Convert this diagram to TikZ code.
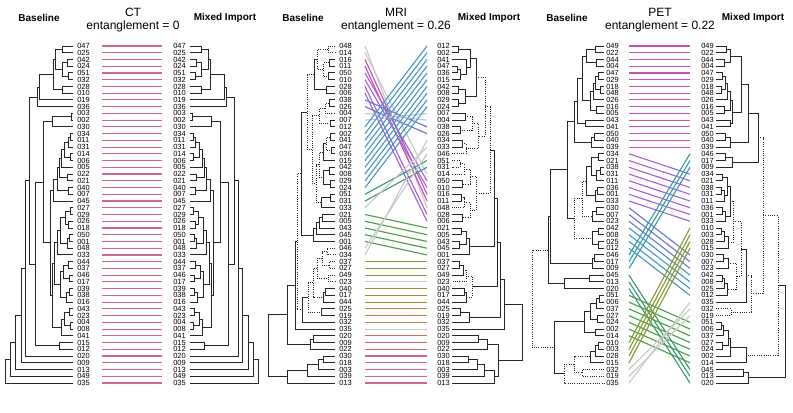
\documentclass[tikz,border=0pt]{standalone}
\usepackage{fontspec}
\setmainfont{Liberation Sans}
\usetikzlibrary{calc}

\definecolor{ctpink}{HTML}{D0668A}
\definecolor{lgray}{HTML}{C8C8C8}
\definecolor{magen}{HTML}{C650B4}
\definecolor{purp}{HTML}{A662D8}
\definecolor{indig}{HTML}{6A76D8}
\definecolor{sky}{HTML}{4A98C8}
\definecolor{teal}{HTML}{3C9CA4}
\definecolor{tgreen}{HTML}{3A9A78}
\definecolor{green}{HTML}{4AA044}
\definecolor{olive}{HTML}{8A9A34}
\definecolor{ochre}{HTML}{A08A3C}
\definecolor{brown}{HTML}{B8844A}
\definecolor{salmon}{HTML}{D06A60}

\tikzset{
  lab/.style={font=\fontsize{5.6}{6}\selectfont, inner sep=0pt, anchor=west},
  hdr/.style={font=\fontsize{7.5}{9}\selectfont\bfseries, inner sep=0pt},
  ttl/.style={font=\fontsize{9}{10}\selectfont, inner sep=0pt},
  branch/.style={draw=black!85, line width=0.7pt},
  tline/.style={line width=0.85pt},
  ss/.style={},
  dd/.style={densely dotted}
}

% #1 name, #2 x of the leaves, #3 side (-1 left, 1 right), #4 merges
\newcommand\dendro[4]{%
  \foreach \k in {1,...,51}
    \coordinate (#1\k) at (#2,{46+(\k-1)*6.74});
  \edef\mlist{#4}%
  \foreach \nm/\ca/\cb/\hh/\st in \mlist{
    \pgfmathsetmacro\hx{#2+#3*\hh}
    \draw[branch,\st] (#1\ca) -- (\hx,0 |- #1\ca) -- (\hx,0 |- #1\cb) -- (#1\cb);
    \coordinate (#1\nm) at ($(\hx,0 |- #1\ca)!.5!(\hx,0 |- #1\cb)$);
  }
}

% #1 name, #2 x of the text, #3 x of the line end, #4 labels
\newcommand\labcol[4]{%
  \foreach \t [count=\i] in {#4}{
    \node[lab] (#1t\i) at (#2,{46+(\i-1)*6.74}) {\t};
    \coordinate (#1e\i) at (#3,{46+(\i-1)*6.74});
  }
}

\def\cttree{a1/1/2/11/ss, a2/3/4/6/ss, a3/5/6/5/ss, a4/a2/a3/11/ss, a5/a1/a4/18/ss,
  a6/7/8/11/ss, a7/a5/a6/20/ss, a8/a7/9/34/ss, a9/a8/10/36/ss,
  b1/11/12/2/ss, b2/b1/13/21/ss,
  c1/14/15/3/ss, c2/c1/16/5/ss, c3/17/18/3/ss, c4/c2/c3/9/ss, c5/c4/19/12/ss,
  c6/20/21/6/ss, c7/c5/c6/14/ss, c8/22/23/5/ss, c9/c7/c8/16/ss, c10/c9/24/20/ss,
  d1/25/26/3/ss, d2/27/28/5/ss, d3/d1/d2/8/ss, d4/29/30/4/ss, d5/d4/31/6/ss,
  d6/d3/d5/13/ss, d7/d6/32/16/ss,
  e1/33/34/5/ss, e2/35/36/4/ss, e3/e1/e2/10/ss, e4/37/38/4/ss, e5/e4/39/7/ss, e6/e3/e5/13/ss,
  f1/40/41/4/ss, f2/42/43/3/ss, f3/f1/f2/9/ss, f4/f3/44/12/ss,
  g1/d7/e6/19/ss, g2/g1/f4/21/ss, c11/c10/g2/23/ss, h1/45/46/14/ss,
  k1/b2/c11/30/ss, k2/k1/h1/38/ss, k3/a9/k2/44/ss, k4/k3/47/48/ss,
  k5/k4/48/52/ss, k6/k5/49/58/ss, k7/k6/50/63/ss, k8/k7/51/68/ss}

\begin{document}
\begin{tikzpicture}[x=0.75pt, y=-0.75pt]
\useasboundingbox (0,0) rectangle (793,413);

% CT
\node[ttl] (ctT) at (133,12) {CT};
\node[ttl] (ctE) at (133,26.5) {entanglement = 0};
\node[hdr] (ctHL) at (39,17.5) {Baseline};
\node[hdr] (ctHR) at (225,17.5) {Mixed Import};
\dendro{ctL}{73}{-1}{\cttree}
\dendro{ctR}{190}{1}{\cttree}
\labcol{ctL}{77}{102}{047,025,042,024,051,032,028,010,019,036,003,002,030,034,011,031,014,006,005,022,021,040,007,045,027,029,026,018,050,001,048,033,044,037,046,017,039,038,016,043,023,004,008,041,015,012,020,009,013,049,035}
\labcol{ctR}{173}{162}{047,025,042,024,051,032,028,010,019,036,003,002,030,034,011,031,014,006,005,022,021,040,007,045,027,029,026,018,050,001,048,033,044,037,046,017,039,038,016,043,023,004,008,041,015,012,020,009,013,049,035}
\foreach \i in {1,...,51}
  \draw[tline,ctpink] (ctLe\i) -- (ctRe\i);

% MRI
\node[ttl] (mrT) at (396,12) {MRI};
\node[ttl] (mrE) at (396,26.5) {entanglement = 0.26};
\node[hdr] (mrHL) at (303,17.5) {Baseline};
\node[hdr] (mrHR) at (489,17.5) {Mixed Import};
\dendro{mrL}{335}{-1}{m1/1/2/7/dd, m2/3/4/6/ss, m3/5/6/7/ss, m4/m2/m3/12/dd, m5/m1/m4/18/dd,
  m6/7/8/9/ss, m7/m5/m6/21/ss, m8/9/10/6/ss, m9/m8/11/10/dd, m10/12/13/5/ss, m11/m9/m10/16/dd,
  m12/14/15/5/ss, m13/16/17/4/ss, m14/m12/m13/9/dd, m15/m14/18/12/ss,
  m16/19/20/6/ss, m17/21/22/5/ss, m18/m16/m17/12/ss, m19/m15/m18/16/dd,
  m20/23/24/5/ss, m21/m20/25/14/ss, m22/m19/m21/19/dd, m23/m11/m22/23/dd, m24/m7/m23/28/dd,
  m25/26/27/13/ss, m26/m25/28/16/ss, m27/m26/29/19/ss, m28/m27/30/22/ss, m29/m24/m28/34/ss,
  m30/31/32/8/dd, m31/33/34/6/dd, m32/m30/m31/13/dd, m33/35/36/7/dd, m34/m32/m33/18/dd,
  m35/37/38/10/ss, m36/m35/39/12/ss, m37/m34/m36/22/dd, m38/40/41/14/ss, m39/m37/m38/27/dd,
  m40/m39/42/33/ss, m41/m29/m40/38/dd, m42/m41/43/40/ss, m43/44/45/22/ss, m44/m43/46/25/ss,
  m45/m42/m44/48/ss, m46/47/48/12/ss, m47/m46/49/17/ss, m48/m47/50/28/ss, m49/m48/51/48/ss,
  m50/m45/m49/67/ss}
\dendro{mrR}{452}{1}{r1/1/2/6/ss, r2/4/5/5/ss, r3/r2/6/8/ss, r4/3/r3/14/ss, r5/r1/r4/18/ss,
  r6/7/8/6/ss, r7/9/10/6/ss, r8/r6/r7/13/ss, r9/r5/r8/24/ss,
  r10/11/12/13/ss, r11/13/14/8/ss, r12/r10/r11/20/dd, r13/15/16/10/ss, r14/r13/17/14/dd,
  r15/r12/r14/26/dd, r16/r9/r15/33/dd,
  r17/18/19/8/dd, r18/r17/20/12/dd, r19/21/22/10/ss, r20/r18/r19/18/dd, r21/23/24/9/ss,
  r22/r21/25/12/dd, r23/26/27/10/ss, r24/r22/r23/18/dd, r25/r20/r24/24/dd, r26/r16/r25/38/dd,
  r27/28/29/9/ss, r28/30/31/7/ss, r29/r27/r28/14/ss, r30/r29/32/17/ss, r31/r26/r30/42/ss,
  r32/33/34/7/ss, r33/r32/35/11/ss, r34/r33/36/14/dd, r35/37/38/12/ss, r36/r35/39/14/ss,
  r37/r34/r36/20/dd, r38/r31/r37/45/ss, r39/40/41/8/ss, r40/r39/42/17/ss, r41/r38/r40/48/ss,
  r42/r41/43/52/ss, r43/44/45/26/ss, r44/r43/46/35/ss, r45/47/48/16/ss, r46/r45/49/25/ss,
  r47/r46/50/32/ss, r48/r47/51/42/ss, r49/r44/r48/46/ss, r50/r42/r49/70/ss}
\labcol{mrL}{339}{365}{048,014,016,011,050,010,028,006,038,026,004,007,012,002,041,047,036,015,042,008,029,024,051,031,033,021,005,043,045,001,046,034,037,027,049,023,040,017,044,025,019,032,035,020,009,022,030,018,003,039,013}
\labcol{mrR}{437}{427}{012,002,041,047,036,015,042,008,029,024,007,004,038,026,034,033,046,051,031,014,050,010,016,011,048,028,006,021,005,043,045,001,037,027,049,023,040,017,044,025,019,032,035,020,009,022,030,018,003,039,013}
\foreach \i/\j/\col in {1/25/lgray, 2/20/lgray, 3/23/magen, 4/24/magen, 5/21/purp, 6/22/purp,
  7/26/purp, 8/27/purp, 9/13/indig, 10/14/indig, 11/12/lgray, 12/11/lgray,
  13/1/sky, 14/2/sky, 15/3/sky, 16/4/sky, 17/5/sky, 18/6/sky, 19/7/sky, 20/8/sky, 21/9/sky, 22/10/sky,
  23/18/tgreen, 24/19/tgreen, 25/16/lgray, 26/28/green, 27/29/green, 28/30/green, 29/31/green,
  30/32/green, 31/17/lgray, 32/15/lgray, 33/33/olive, 34/34/olive, 35/35/olive, 36/36/lgray,
  37/37/ochre, 38/38/ochre, 39/39/ochre, 40/40/brown, 41/41/brown, 42/42/brown, 43/43/lgray,
  44/44/salmon, 45/45/salmon, 46/46/salmon, 47/47/ctpink, 48/48/ctpink, 49/49/ctpink,
  50/50/ctpink, 51/51/ctpink}
  \draw[tline,\col] (mrLe\i) -- (mrRe\j);

% PET
\node[ttl] (peT) at (660,12) {PET};
\node[ttl] (peE) at (660,26.5) {entanglement = 0.22};
\node[hdr] (peHL) at (567,17.5) {Baseline};
\node[hdr] (peHR) at (753,17.5) {Mixed Import};
\dendro{peL}{604}{-1}{p1/1/2/9/ss, p2/3/4/8/ss, p3/p1/p2/18/ss, p4/5/6/6/ss, p5/7/8/4/ss,
  p6/p4/p5/9/ss, p7/p6/9/11/ss, p8/10/11/8/ss, p9/p7/p8/14/ss, p10/p3/p9/22/ss, p11/12/13/19/ss,
  p12/p10/p11/27/ss, p13/14/15/10/ss, p14/p13/16/13/ss, p15/p12/p14/30/ss,
  p16/17/18/6/ss, p17/19/20/4/ss, p18/p17/21/8/ss, p19/p16/p18/13/ss, p20/22/23/7/ss,
  p21/p20/24/9/ss, p22/p19/p21/18/ss, p23/25/26/8/ss, p24/p23/27/12/ss, p25/p22/p24/22/dd,
  p26/28/29/6/ss, p27/30/31/6/ss, p28/p26/p27/12/ss, p29/p25/p28/30/dd, p30/p15/p29/37/ss,
  p31/32/33/10/ss, p32/p31/34/12/ss, p33/p30/p32/54/ss, p34/35/36/15/ss, p35/p34/37/40/ss,
  p36/p33/p35/56/ss, p37/38/39/5/ss, p38/p37/40/8/ss, p39/41/42/7/ss, p40/p38/p39/14/ss,
  p41/43/44/9/ss, p42/p40/p41/20/ss, p43/45/46/6/ss, p44/p43/47/9/ss, p45/p44/48/14/ss,
  p46/49/50/22/dd, p47/p45/p46/30/dd, p48/p47/51/40/dd, p49/p42/p48/50/ss, p50/p36/p49/72/dd}
\dendro{peR}{716}{1}{q1/1/2/10/ss, q2/3/4/8/ss, q3/q1/q2/14/ss, q4/5/6/6/ss, q5/7/8/5/ss,
  q6/q4/q5/9/ss, q7/q6/9/11/ss, q8/10/11/8/ss, q9/q7/q8/14/ss, q10/12/13/14/ss, q11/q9/q10/16/ss,
  q12/q3/q11/25/ss, q13/14/15/9/ss, q14/q13/16/14/ss, q15/q12/q14/32/ss, q16/17/18/9/ss,
  q17/q16/19/16/ss, q18/q15/q17/42/ss,
  q19/20/21/6/ss, q20/22/23/5/ss, q21/q20/24/8/ss, q22/q19/q21/11/ss, q23/25/26/6/ss,
  q24/q23/27/9/ss, q25/q22/q24/14/ss, q26/28/29/5/ss, q27/q26/30/8/ss, q28/q27/31/12/ss,
  q29/q25/q28/17/dd, q30/32/33/7/ss, q31/q30/34/12/ss, q32/35/36/6/ss, q33/q32/37/8/ss,
  q34/q33/38/11/ss, q35/q31/q34/20/dd, q36/q29/q35/25/dd, q37/q36/39/30/ss, q38/40/41/15/dd,
  q39/q37/q38/35/dd, q40/42/43/5/ss, q41/q40/44/7/ss, q42/45/46/6/ss, q43/q41/q42/12/ss,
  q44/q43/47/14/ss, q45/q44/48/30/ss, q46/49/50/27/ss, q47/q46/51/32/ss,
  q48/q18/q39/47/dd, q49/q48/q45/62/dd, q50/q49/q47/69/ss}
\labcol{peL}{606}{629}{049,022,044,004,047,029,018,048,026,016,005,043,041,050,040,039,034,021,038,031,011,036,001,033,030,007,023,042,008,025,012,046,017,009,045,013,020,051,006,037,027,024,002,014,010,003,028,015,032,019,035}
\labcol{peR}{701}{690}{049,022,044,004,047,029,018,048,026,016,005,043,041,050,040,039,046,017,009,034,021,038,031,011,036,001,033,010,003,028,015,030,007,023,042,008,025,012,035,032,019,051,006,037,027,024,002,014,045,013,020}
\foreach \i in {1,...,16}
  \draw[tline,magen] (peLe\i) -- (peRe\i);
\foreach \i/\j/\col in {17/20/purp, 18/21/purp, 19/22/purp, 20/23/purp, 21/24/purp, 22/25/purp,
  23/26/purp, 24/27/purp, 25/32/indig, 26/33/indig, 27/34/indig, 28/35/sky, 29/36/sky, 30/37/sky,
  31/38/sky, 32/17/teal, 33/18/teal, 34/19/teal, 35/49/tgreen, 36/50/tgreen, 37/51/tgreen,
  38/42/green, 39/43/green, 40/44/green, 41/45/green, 42/46/green, 43/47/green, 44/48/green,
  45/28/olive, 46/29/olive, 47/30/olive, 48/31/olive, 49/40/lgray, 50/41/lgray, 51/39/lgray}
  \draw[tline,\col] (peLe\i) -- (peRe\j);
\end{tikzpicture}
\end{document}
